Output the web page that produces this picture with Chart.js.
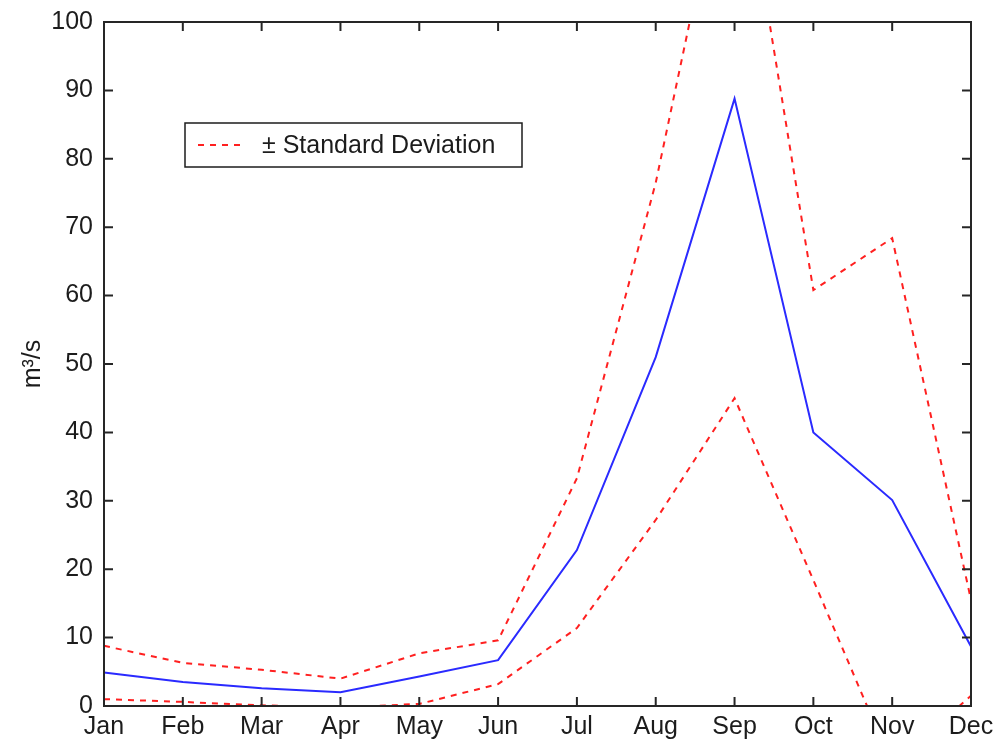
<!DOCTYPE html>
<html>
<head>
<meta charset="utf-8">
<script src="https://cdn.jsdelivr.net/npm/chart.js@4/dist/chart.umd.min.js"></script>
<style>
  html, body { margin: 0; padding: 0; background: #ffffff; }
  #wrap { width: 1000px; height: 748px; }
</style>
</head>
<body>
<div id="wrap"><canvas id="flowChart" width="1000" height="748"></canvas></div>
<script>
// Monthly mean discharge (m³/s) with ± one standard deviation
const months = ['Jan', 'Feb', 'Mar', 'Apr', 'May', 'Jun', 'Jul', 'Aug', 'Sep', 'Oct', 'Nov', 'Dec'];
const meanFlow  = [4.9, 3.5, 2.6, 2.0, 4.3, 6.7, 22.8, 51.0, 88.8, 40.0, 30.1, 8.7];
const upperFlow = [8.8, 6.3, 5.3, 4.0, 7.7, 9.6, 33.3, 76.5, 131.0, 60.8, 68.4, 15.5];
const lowerFlow = [1.0, 0.6, 0.1, -0.2, 0.3, 3.2, 11.4, 27.2, 45.0, 18.4, -8.6, 1.5];
const yTickValues = [0, 10, 20, 30, 40, 50, 60, 70, 80, 90, 100];

const FONT = '"Liberation Sans", Arial, sans-serif';
const INK = '#1c1c1c';
const sdLabel = '± Standard Deviation';

// Box around the plot with tick marks pointing inward on all four sides
const framePlugin = {
  id: 'frame',
  afterDatasetsDraw(chart) {
    const { ctx, chartArea: a, scales: { x, y } } = chart;
    const len = 9;
    ctx.save();
    ctx.strokeStyle = '#262626';
    ctx.lineWidth = 2;
    ctx.strokeRect(a.left, a.top, a.right - a.left, a.bottom - a.top);
    ctx.beginPath();
    x.ticks.forEach((t, i) => {
      const px = x.getPixelForTick(i);
      ctx.moveTo(px, a.bottom); ctx.lineTo(px, a.bottom - len);
      ctx.moveTo(px, a.top);    ctx.lineTo(px, a.top + len);
    });
    y.ticks.forEach((t, i) => {
      const py = y.getPixelForTick(i);
      ctx.moveTo(a.left, py);  ctx.lineTo(a.left + len, py);
      ctx.moveTo(a.right, py); ctx.lineTo(a.right - len, py);
    });
    ctx.stroke();
    ctx.restore();
  }
};

// Boxed key for the dashed band, placed inside the plot
const keyPlugin = {
  id: 'sdKey',
  afterDraw(chart) {
    const { ctx } = chart;
    const ds = chart.data.datasets[1];
    const bx = 185, by = 123, bw = 337, bh = 44;
    ctx.save();
    ctx.fillStyle = '#ffffff';
    ctx.fillRect(bx, by, bw, bh);
    ctx.strokeStyle = '#1c1c1c';
    ctx.lineWidth = 1.5;
    ctx.strokeRect(bx, by, bw, bh);
    ctx.strokeStyle = ds.borderColor;
    ctx.lineWidth = ds.borderWidth;
    ctx.setLineDash(ds.borderDash);
    ctx.beginPath();
    ctx.moveTo(bx + 13, by + bh / 2);
    ctx.lineTo(bx + 58, by + bh / 2);
    ctx.stroke();
    ctx.setLineDash([]);
    ctx.fillStyle = INK;
    ctx.font = '25px ' + FONT;
    ctx.textBaseline = 'middle';
    ctx.textAlign = 'left';
    ctx.fillText(ds.label, bx + 77, by + bh / 2 + 1);
    ctx.restore();
  }
};

new Chart(document.getElementById('flowChart'), {
  type: 'line',
  data: {
    labels: months,
    datasets: [
      {
        label: 'Mean',
        data: meanFlow,
        borderColor: '#2a2aff',
        borderWidth: 2,
        pointRadius: 0,
        tension: 0,
        fill: false
      },
      {
        label: sdLabel,
        data: upperFlow,
        borderColor: '#ff2020',
        borderWidth: 2,
        borderDash: [6, 6],
        pointRadius: 0,
        tension: 0,
        fill: false
      },
      {
        label: sdLabel + ' (lower)',
        data: lowerFlow,
        borderColor: '#ff2020',
        borderWidth: 2,
        borderDash: [6, 6],
        pointRadius: 0,
        tension: 0,
        fill: false
      }
    ]
  },
  options: {
    responsive: false,
    devicePixelRatio: 1,
    animation: false,
    layout: { padding: { top: 22, right: 29, left: 0, bottom: 0 } },
    plugins: {
      legend: { display: false },
      tooltip: { enabled: false }
    },
    scales: {
      x: {
        type: 'category',
        offset: false,
        grid: { display: false, drawTicks: false },
        border: { display: false },
        ticks: {
          color: INK,
          font: { family: FONT, size: 25 },
          padding: 6,
          maxRotation: 0,
          autoSkip: false
        },
        afterFit(scale) { scale.height = 42; }
      },
      y: {
        min: 0,
        max: 100,
        grid: { display: false, drawTicks: false },
        border: { display: false },
        afterBuildTicks(scale) {
          scale.ticks = yTickValues.map(v => ({ value: v }));
        },
        ticks: {
          color: INK,
          font: { family: FONT, size: 25 },
          padding: 11
        },
        title: {
          display: true,
          text: 'm³/s',
          color: INK,
          font: { family: FONT, size: 25 },
          padding: { top: 18, bottom: 0 }
        },
        afterFit(scale) {
          scale.width = 104;
          // the outer layout padding already leaves room for the end labels
          scale.paddingTop = 0;
          scale.paddingBottom = 0;
        }
      }
    }
  },
  plugins: [framePlugin, keyPlugin]
});
</script>
</body>
</html>
